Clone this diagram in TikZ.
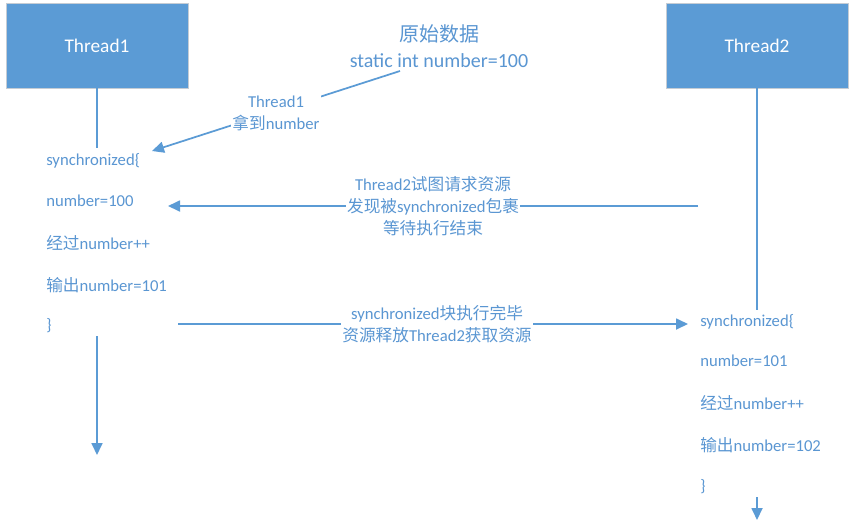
\documentclass[tikz,border=0pt]{standalone}
\usepackage{fontspec}
\setmainfont{Carlito}
\newfontfamily\cjk{Noto Sans CJK SC}
\usetikzlibrary{arrows.meta}
\definecolor{blu}{HTML}{5B9BD5}
\definecolor{txt}{HTML}{5A96D2}
\definecolor{rim}{HTML}{C5CCD4}
\begin{document}
\begin{tikzpicture}[x=0.75pt,y=-0.75pt,
  threadbox/.style={draw=rim,line width=0.6pt,fill=blu,minimum width=182*0.75pt,minimum height=85*0.75pt,
    text=white,font=\fontsize{14.5}{17}\selectfont,inner sep=0pt},
  codeline/.style={anchor=west,text=txt,font=\fontsize{12.5}{14}\selectfont,inner sep=0pt},
  lbl/.style={text=txt,font=\fontsize{12.5}{16.5}\selectfont,align=center,fill=white,inner sep=1pt},
  conn/.style={draw=blu,line width=1.3pt},
  arr/.style={conn,-{Triangle[length=12*0.75pt,width=11*0.75pt]}}]
\useasboundingbox (0,0) rectangle (855,522);
\fill[white] (0,0) rectangle (855,522);
% thread boxes
\node[threadbox] (t1) at (97,45.5) {Thread1};
\node[threadbox] (t2) at (757,45.5) {Thread2};
% title
\node[text=txt,font=\fontsize{15}{19.5}\selectfont,align=center,inner sep=0pt] (title) at (439,46)
  {{\cjk 原始数据}\\static int number=100};
% left column
\coordinate (l1) at (97,148);
\node[codeline] (a1) at (46,161) {synchronized\{};
\node[codeline] (a2) at (46,201) {number=100};
\node[codeline] (a3) at (46,243) {{\cjk 经过}number++};
\node[codeline] (a4) at (46,285) {{\cjk 输出}number=101};
\node[codeline] (a5) at (46,326) {\}};
\coordinate (l2) at (97,336);
\coordinate (l3) at (97,455);
\draw[conn] (t1.south) -- (l1);
\draw[arr] (l2) -- (l3);
% right column
\coordinate (r1) at (757,310);
\node[codeline] (b1) at (700,322) {synchronized\{};
\node[codeline] (b2) at (700,361) {number=101};
\node[codeline] (b3) at (700,403) {{\cjk 经过}number++};
\node[codeline] (b4) at (700,445) {{\cjk 输出}number=102};
\node[codeline] (b5) at (700,487) {\}};
\coordinate (r2) at (757,497);
\coordinate (r3) at (757,520);
\draw[conn] (t2.south) -- (r1);
\draw[arr] (r2) -- (r3);
% arrow 1: data taken by Thread1
\coordinate (s1) at (400,71);
\coordinate (e1) at (152,151);
\draw[arr] (s1) -- (e1) node[lbl,pos=0.5,yshift=-2*0.75pt] (m1) {Thread1\\{\cjk 拿到}number};
% arrow 2: Thread2 requests
\coordinate (s2) at (698,206);
\coordinate (e2) at (168,206);
\draw[arr] (s2) -- (e2) node[lbl,pos=0.5] (m2) {Thread2{\cjk 试图请求资源}\\{\cjk 发现被}synchronized{\cjk 包裹}\\{\cjk 等待执行结束}};
% arrow 3: release
\coordinate (s3) at (178,324);
\coordinate (e3) at (688,324);
\draw[arr] (s3) -- (e3) node[lbl,pos=0.5,xshift=4*0.75pt] (m3) {synchronized{\cjk 块执行完毕}\\{\cjk 资源释放}Thread2{\cjk 获取资源}};
\end{tikzpicture}
\end{document}
